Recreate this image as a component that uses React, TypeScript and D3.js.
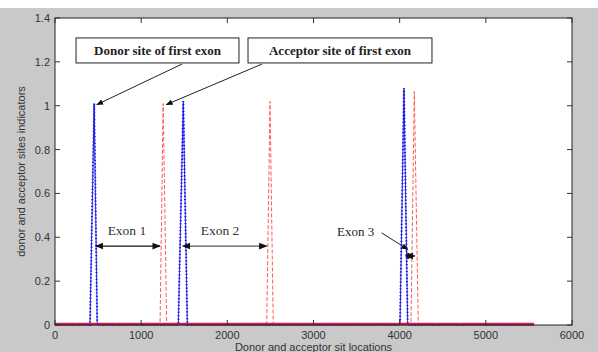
import React from "react";
import * as d3 from "d3";

// Donor (blue) and acceptor (red) indicator series.
const donorX = [0, 406, 455, 490, 1431, 1489, 1536, 4004, 4050, 4093, 5560];
const donorY = [0, 0, 1.01, 0, 0, 1.02, 0, 0, 1.08, 0, 0];
const acceptorX = [0, 1219, 1255, 1296, 2457, 2495, 2533, 4131, 4170, 4216, 5560];
const acceptorY = [0, 0, 1.01, 0, 0, 1.02, 0, 0, 1.065, 0, 0];

const xTicks = [0, 1000, 2000, 3000, 4000, 5000, 6000];
const yTicks = [0, 0.2, 0.4, 0.6, 0.8, 1, 1.2, 1.4];

// Exon spans (start, end, arrow height, label)
const exonStart = [472, 1482, 4070];
const exonEnd = [1219, 2457, 4175];
const exonLevel = [0.36, 0.36, 0.315];
const exonLabels = ["Exon 1", "Exon 2", "Exon 3"];

const W = 598;
const H = 352;
const margin = { top: 18, right: 26, bottom: 27, left: 55 };

export default function App() {
  const iw = W - margin.left - margin.right;
  const ih = H - margin.top - margin.bottom;
  const x = d3.scaleLinear().domain([0, 6000]).range([0, iw]);
  const y = d3.scaleLinear().domain([0, 1.4]).range([ih, 0]);

  const path = (xs: number[], ys: number[]) =>
    d3
      .line<number>()
      .x((d) => x(d))
      .y((_, i) => y(ys[i]))(xs) || "";

  const donorPath = path(donorX, donorY);
  const acceptorPath = path(acceptorX, acceptorY);

  const serif = "'Liberation Serif', 'DejaVu Serif', serif";
  const sans = "'Liberation Sans', Arial, sans-serif";

  return (
    <svg
      width={W}
      height={H}
      style={{ position: "absolute", left: 0, top: 0, display: "block" }}
    >
      <defs>
        <marker id="ah" viewBox="0 0 10 10" refX="9" refY="5" markerWidth="7" markerHeight="7" orient="auto-start-reverse">
          <path d="M0,1 L10,5 L0,9 Z" fill="#111" />
        </marker>
      </defs>
      <rect x={0} y={0} width={W} height={H} fill="#fff" />
      <rect x={0} y={8} width={W} height={H - 8} fill="#c9c9c9" />
      <g transform={`translate(${margin.left},${margin.top})`}>
        <rect x={0} y={0} width={iw} height={ih} fill="#fff" />

        {/* series */}
        <path d={donorPath} fill="none" stroke="#2a2aff" strokeWidth={1} />
        <path d={donorPath} fill="none" stroke="#1818d8" strokeWidth={2} strokeDasharray="1.2,2.2" />
        <path d={acceptorPath} fill="none" stroke="#ff5a5a" strokeWidth={1} strokeDasharray="4,2" />
        <line x1={x(0)} x2={x(5560)} y1={y(0) - 1} y2={y(0) - 1} stroke="#c8205a" strokeWidth={2.5} />

        {/* axes box and ticks */}
        <rect x={0} y={0} width={iw} height={ih} fill="none" stroke="#222" strokeWidth={1} />
        {xTicks.map((t) => (
          <g key={"x" + t}>
            <line x1={x(t)} x2={x(t)} y1={ih} y2={ih - 5} stroke="#333" />
            <line x1={x(t)} x2={x(t)} y1={0} y2={5} stroke="#333" />
            <text x={x(t)} y={ih + 14} textAnchor="middle" fontFamily={sans} fontSize={11} fill="#333">
              {t}
            </text>
          </g>
        ))}
        {yTicks.map((t) => (
          <g key={"y" + t}>
            <line x1={0} x2={5} y1={y(t)} y2={y(t)} stroke="#333" />
            <line x1={iw} x2={iw - 5} y1={y(t)} y2={y(t)} stroke="#333" />
            <text x={-5} y={y(t) + 4} textAnchor="end" fontFamily={sans} fontSize={11} fill="#333">
              {d3.format("~g")(t)}
            </text>
          </g>
        ))}

        {/* callout boxes */}
        <rect x={x(244)} y={y(1.309)} width={x(2135) - x(244)} height={y(1.195) - y(1.309)} fill="#fff" stroke="#222" />
        <text x={(x(244) + x(2135)) / 2} y={(y(1.309) + y(1.195)) / 2 + 4.5} textAnchor="middle" fontFamily={serif} fontWeight="bold" fontSize={13} fill="#222">
          Donor site of first exon
        </text>
        <rect x={x(2240)} y={y(1.309)} width={x(4375) - x(2240)} height={y(1.195) - y(1.309)} fill="#fff" stroke="#222" />
        <text x={(x(2240) + x(4375)) / 2} y={(y(1.309) + y(1.195)) / 2 + 4.5} textAnchor="middle" fontFamily={serif} fontWeight="bold" fontSize={13} fill="#222">
          Acceptor site of first exon
        </text>
        <line x1={x(1474)} y1={y(1.19)} x2={x(485)} y2={y(1.005)} stroke="#222" markerEnd="url(#ah)" />
        <line x1={x(2402)} y1={y(1.19)} x2={x(1292)} y2={y(1.005)} stroke="#222" markerEnd="url(#ah)" />

        {/* exon spans */}
        {exonStart.map((s, i) => (
          <line
            key={"e" + i}
            x1={x(s)}
            x2={x(exonEnd[i])}
            y1={y(exonLevel[i])}
            y2={y(exonLevel[i])}
            stroke={i === 1 ? "#555" : "#111"}
            strokeWidth={1.2}
            markerStart="url(#ah)"
            markerEnd="url(#ah)"
          />
        ))}
        <text x={x(835)} y={y(0.41)} textAnchor="middle" fontFamily={serif} fontSize={13.5} fill="#333">
          {exonLabels[0]}
        </text>
        <text x={x(1915)} y={y(0.41)} textAnchor="middle" fontFamily={serif} fontSize={13.5} fill="#333">
          {exonLabels[1]}
        </text>
        <text x={x(3490)} y={y(0.405)} textAnchor="middle" fontFamily={serif} fontSize={13} fill="#222">
          {exonLabels[2]}
        </text>
        <line x1={x(3790)} y1={y(0.42)} x2={x(4095)} y2={y(0.345)} stroke="#222" markerEnd="url(#ah)" />
      </g>

      <text x={margin.left + iw / 2} y={H - 1} textAnchor="middle" fontFamily={sans} fontSize={11} fill="#333">
        Donor and acceptor sit locations
      </text>
      <text
        transform={`translate(25,${margin.top + ih / 2}) rotate(-90)`}
        textAnchor="middle"
        fontFamily={sans}
        fontSize={11}
        fill="#333"
      >
        donor and acceptor sites indicators
      </text>
    </svg>
  );
}
